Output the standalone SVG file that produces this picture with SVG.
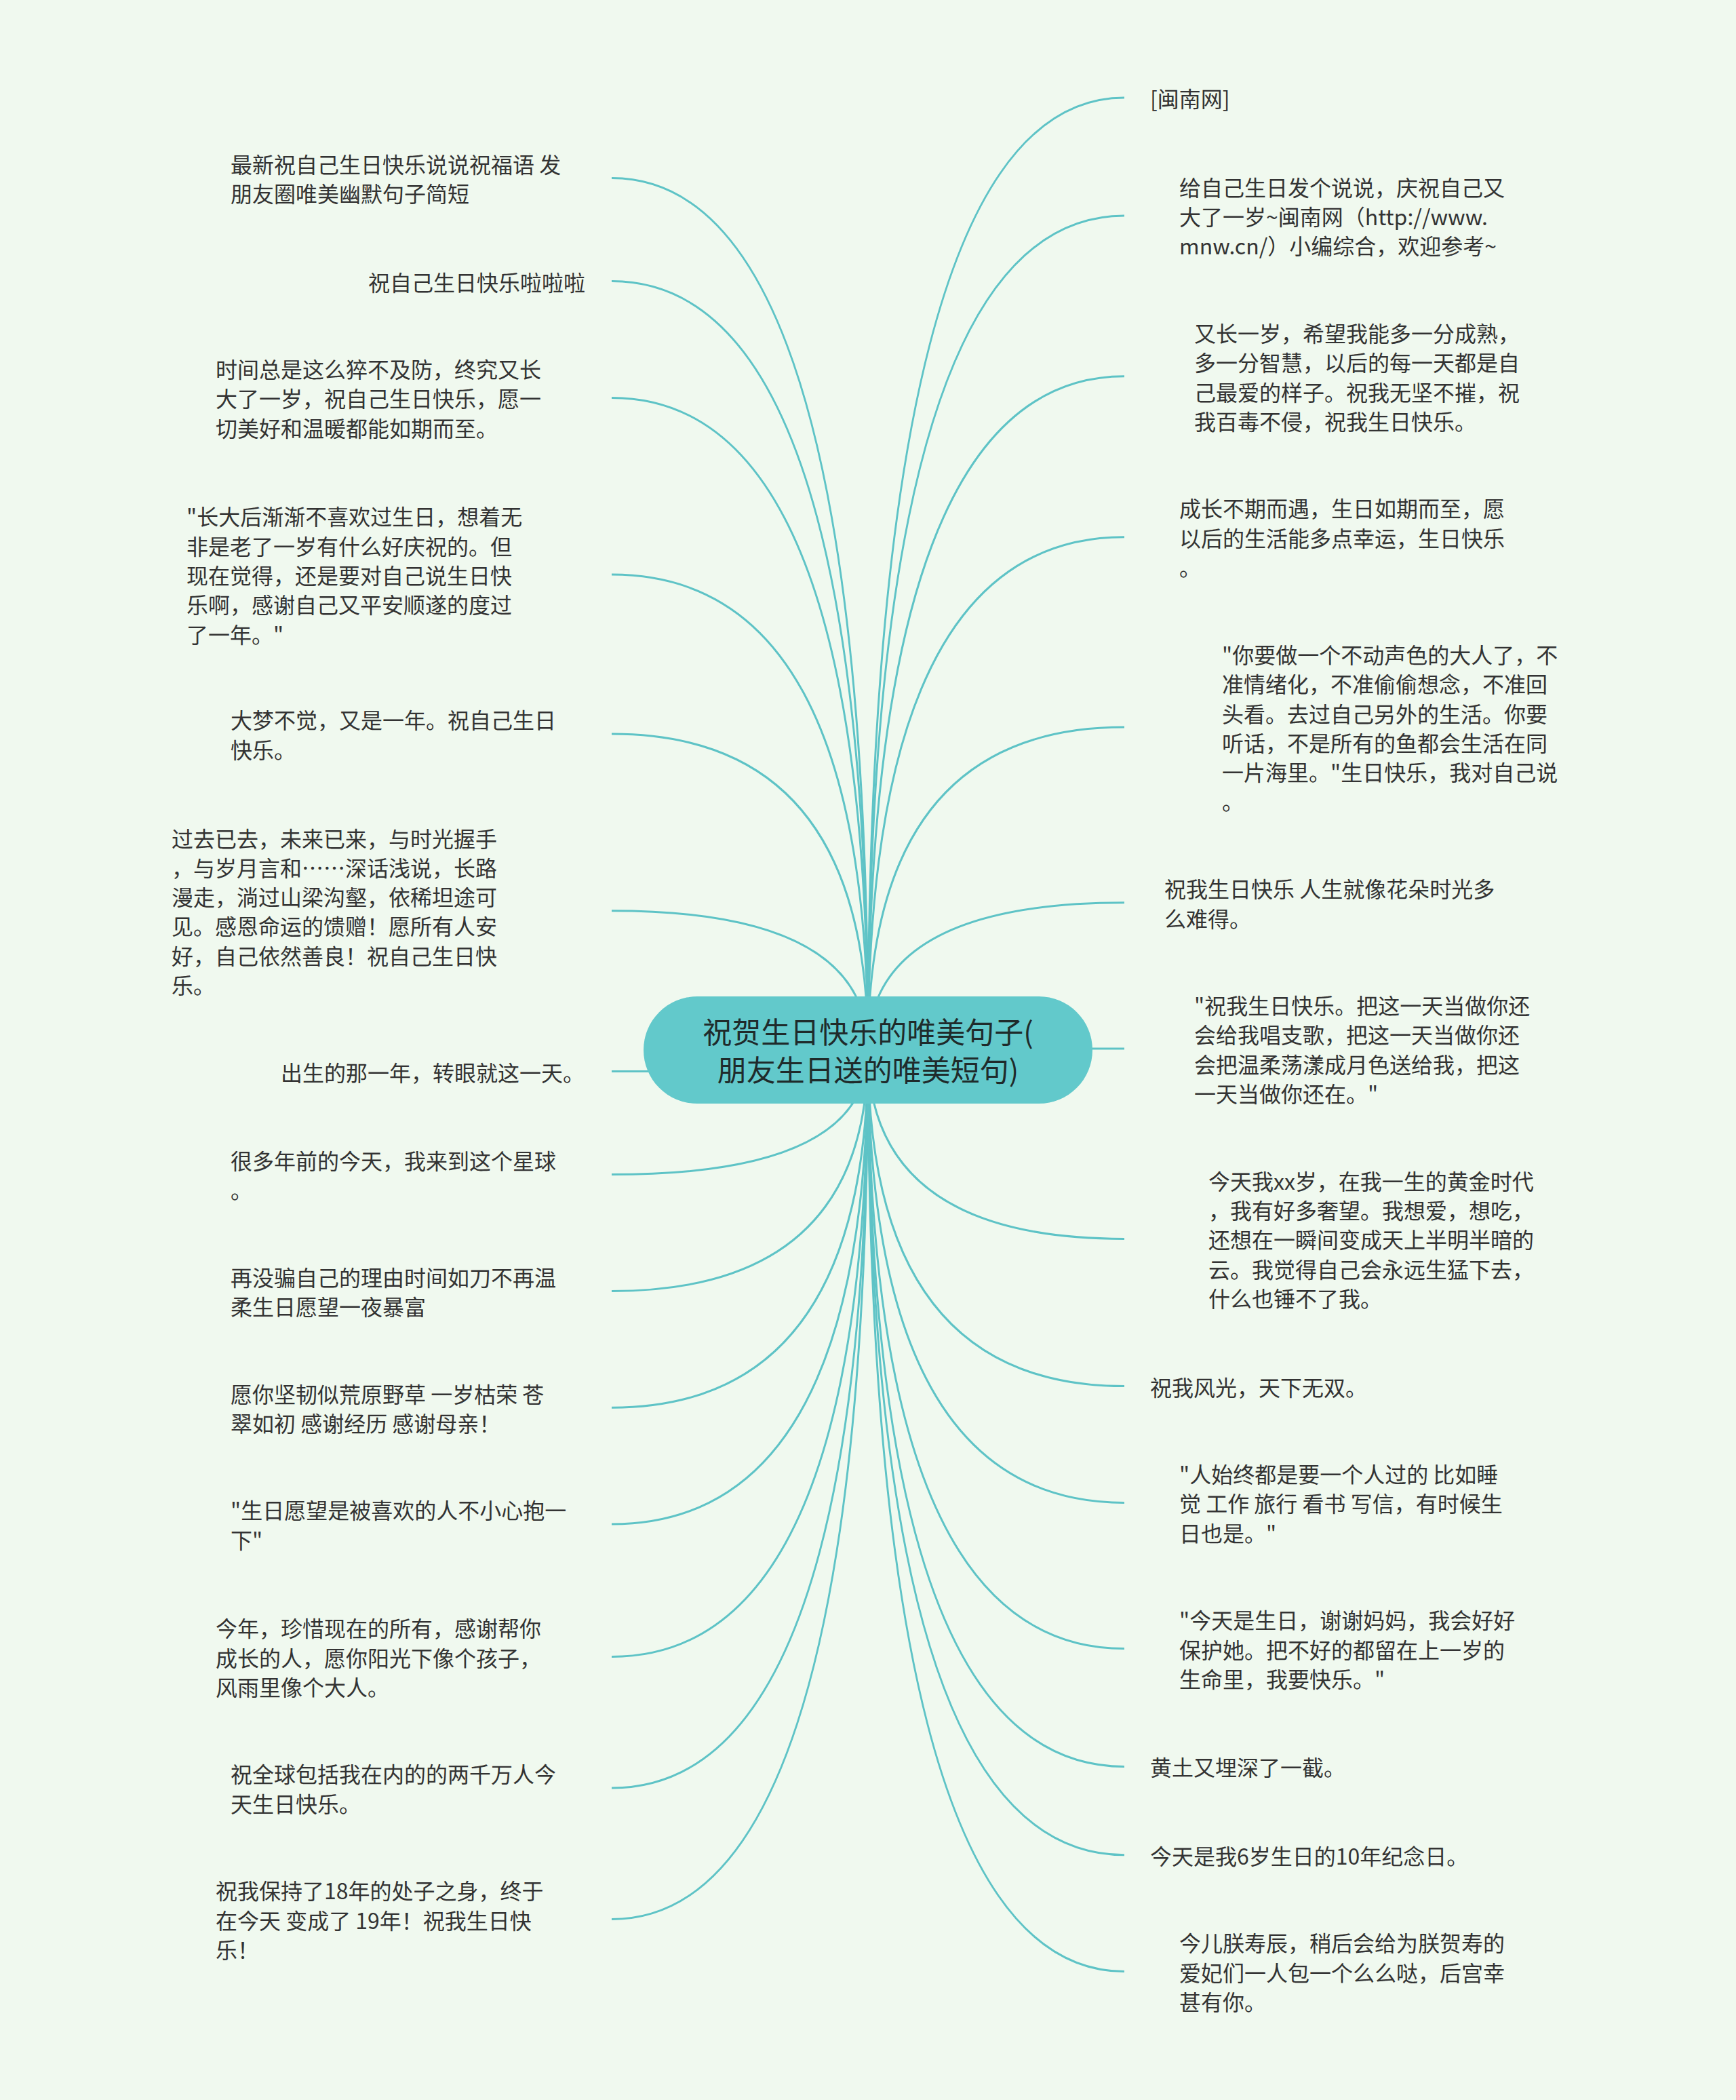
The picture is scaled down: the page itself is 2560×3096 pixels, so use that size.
<svg xmlns="http://www.w3.org/2000/svg" width="2560" height="3096" viewBox="0 0 2560 3096">
<style>
.bg{fill:#f0f9ef}
.edge{fill:none;stroke:#5ec3c6;stroke-width:3}
.root{fill:#62c9cb}
.rt{font-family:"Noto Sans CJK SC","Microsoft YaHei",sans-serif;font-size:43px;fill:#1f2b2b;text-anchor:middle;dominant-baseline:central}
.t{font-family:"Noto Sans CJK SC","Microsoft YaHei",sans-serif;font-size:32px;fill:#333333;dominant-baseline:central}
</style>
<rect class="bg" x="0" y="0" width="2560" height="3096"/>
<g id="connectors">
<path class="edge" d="M1280 1548 Q1280 262.6 902 262.6"/>
<path class="edge" d="M1280 1548 Q1280 414.6 902 414.6"/>
<path class="edge" d="M1280 1548 Q1280 586.4 902 586.4"/>
<path class="edge" d="M1280 1548 Q1280 847.1 902 847.1"/>
<path class="edge" d="M1280 1548 Q1280 1082 902 1082"/>
<path class="edge" d="M1280 1548 Q1280 1342.7 902 1342.7"/>
<path class="edge" d="M1280 1548 Q1280 1579.6 902 1579.6"/>
<path class="edge" d="M1280 1548 Q1280 1731.6 902 1731.6"/>
<path class="edge" d="M1280 1548 Q1280 1903.4 902 1903.4"/>
<path class="edge" d="M1280 1548 Q1280 2075.2 902 2075.2"/>
<path class="edge" d="M1280 1548 Q1280 2247 902 2247"/>
<path class="edge" d="M1280 1548 Q1280 2442.5 902 2442.5"/>
<path class="edge" d="M1280 1548 Q1280 2636 902 2636"/>
<path class="edge" d="M1280 1548 Q1280 2829.5 902 2829.5"/>
<path class="edge" d="M1280 1548 Q1280 144 1658 144"/>
<path class="edge" d="M1280 1548 Q1280 318 1658 318"/>
<path class="edge" d="M1280 1548 Q1280 554.8 1658 554.8"/>
<path class="edge" d="M1280 1548 Q1280 791.7 1658 791.7"/>
<path class="edge" d="M1280 1548 Q1280 1072.1 1658 1072.1"/>
<path class="edge" d="M1280 1548 Q1280 1330.8 1658 1330.8"/>
<path class="edge" d="M1280 1548 Q1280 1546 1658 1546"/>
<path class="edge" d="M1280 1548 Q1280 1826.4 1658 1826.4"/>
<path class="edge" d="M1280 1548 Q1280 2043.6 1658 2043.6"/>
<path class="edge" d="M1280 1548 Q1280 2215.4 1658 2215.4"/>
<path class="edge" d="M1280 1548 Q1280 2430.6 1658 2430.6"/>
<path class="edge" d="M1280 1548 Q1280 2604.4 1658 2604.4"/>
<path class="edge" d="M1280 1548 Q1280 2734.7 1658 2734.7"/>
<path class="edge" d="M1280 1548 Q1280 2906.5 1658 2906.5"/>
</g>
<g id="root">
<rect class="root" x="949" y="1469" width="662" height="158" rx="79" ry="79"/>
<text class="rt" x="1280" y="1519">祝贺生日快乐的唯美句子(</text>
<text class="rt" x="1280" y="1575">朋友生日送的唯美短句)</text>
</g>
<g id="L1"><text class="t" x="340" y="241">最新祝自己生日快乐说说祝福语 发</text><text class="t" x="340" y="284">朋友圈唯美幽默句子简短</text></g>
<g id="L2"><text class="t" x="543" y="414.6">祝自己生日快乐啦啦啦</text></g>
<g id="L3"><text class="t" x="318" y="543">时间总是这么猝不及防，终究又长</text><text class="t" x="318" y="586.4">大了一岁，祝自己生日快乐，愿一</text><text class="t" x="318" y="630">切美好和温暖都能如期而至。</text></g>
<g id="L4"><text class="t" x="275" y="760">"长大后渐渐不喜欢过生日，想着无</text><text class="t" x="275" y="804">非是老了一岁有什么好庆祝的。但</text><text class="t" x="275" y="847">现在觉得，还是要对自己说生日快</text><text class="t" x="275" y="890">乐啊，感谢自己又平安顺遂的度过</text><text class="t" x="275" y="934">了一年。"</text></g>
<g id="L5"><text class="t" x="340" y="1060">大梦不觉，又是一年。祝自己生日</text><text class="t" x="340" y="1104">快乐。</text></g>
<g id="L6"><text class="t" x="253" y="1234.5">过去已去，未来已来，与时光握手</text><text class="t" x="253" y="1278">，与岁月言和……深话浅说，长路</text><text class="t" x="253" y="1321">漫走，淌过山梁沟壑，依稀坦途可</text><text class="t" x="253" y="1364">见。感恩命运的馈赠！愿所有人安</text><text class="t" x="253" y="1408">好，自己依然善良！祝自己生日快</text><text class="t" x="253" y="1451">乐。</text></g>
<g id="L7"><text class="t" x="414" y="1579.6">出生的那一年，转眼就这一天。</text></g>
<g id="L8"><text class="t" x="340" y="1710">很多年前的今天，我来到这个星球</text><text class="t" x="340" y="1753">。</text></g>
<g id="L9"><text class="t" x="340" y="1882">再没骗自己的理由时间如刀不再温</text><text class="t" x="340" y="1925">柔生日愿望一夜暴富</text></g>
<g id="L10"><text class="t" x="340" y="2054">愿你坚韧似荒原野草 一岁枯荣 苍</text><text class="t" x="340" y="2097">翠如初 感谢经历 感谢母亲！</text></g>
<g id="L11"><text class="t" x="340" y="2225">"生日愿望是被喜欢的人不小心抱一</text><text class="t" x="340" y="2269">下"</text></g>
<g id="L12"><text class="t" x="318" y="2399">今年，珍惜现在的所有，感谢帮你</text><text class="t" x="318" y="2442.5">成长的人，愿你阳光下像个孩子，</text><text class="t" x="318" y="2486">风雨里像个大人。</text></g>
<g id="L13"><text class="t" x="340" y="2614">祝全球包括我在内的的两千万人今</text><text class="t" x="340" y="2658">天生日快乐。</text></g>
<g id="L14"><text class="t" x="318" y="2786">祝我保持了18年的处子之身，终于</text><text class="t" x="318" y="2829.5">在今天 变成了 19年！祝我生日快</text><text class="t" x="318" y="2873">乐！</text></g>
<g id="R1"><text class="t" x="1696" y="144">[闽南网]</text></g>
<g id="R2"><text class="t" x="1739" y="274.7">给自己生日发个说说，庆祝自己又</text><text class="t" x="1739" y="318">大了一岁~闽南网（http://www.</text><text class="t" x="1739" y="361.3">mnw.cn/）小编综合，欢迎参考~</text></g>
<g id="R3"><text class="t" x="1761" y="489.9">又长一岁，希望我能多一分成熟，</text><text class="t" x="1761" y="533.2">多一分智慧，以后的每一天都是自</text><text class="t" x="1761" y="576.5">己最爱的样子。祝我无坚不摧，祝</text><text class="t" x="1761" y="619.8">我百毒不侵，祝我生日快乐。</text></g>
<g id="R4"><text class="t" x="1739" y="748.4">成长不期而遇，生日如期而至，愿</text><text class="t" x="1739" y="791.7">以后的生活能多点幸运，生日快乐</text><text class="t" x="1739" y="835">。</text></g>
<g id="R5"><text class="t" x="1802" y="963.9">"你要做一个不动声色的大人了，不</text><text class="t" x="1802" y="1007.2">准情绪化，不准偷偷想念，不准回</text><text class="t" x="1802" y="1050.5">头看。去过自己另外的生活。你要</text><text class="t" x="1802" y="1093.8">听话，不是所有的鱼都会生活在同</text><text class="t" x="1802" y="1137.1">一片海里。"生日快乐，我对自己说</text><text class="t" x="1802" y="1180.4">。</text></g>
<g id="R6"><text class="t" x="1717" y="1309.2">祝我生日快乐 人生就像花朵时光多</text><text class="t" x="1717" y="1352.5">么难得。</text></g>
<g id="R7"><text class="t" x="1761" y="1481">"祝我生日快乐。把这一天当做你还</text><text class="t" x="1761" y="1524.4">会给我唱支歌，把这一天当做你还</text><text class="t" x="1761" y="1567.7">会把温柔荡漾成月色送给我，把这</text><text class="t" x="1761" y="1611">一天当做你还在。"</text></g>
<g id="R8"><text class="t" x="1782" y="1739.8">今天我xx岁，在我一生的黄金时代</text><text class="t" x="1782" y="1783.1">，我有好多奢望。我想爱，想吃，</text><text class="t" x="1782" y="1826.4">还想在一瞬间变成天上半明半暗的</text><text class="t" x="1782" y="1869.7">云。我觉得自己会永远生猛下去，</text><text class="t" x="1782" y="1913">什么也锤不了我。</text></g>
<g id="R9"><text class="t" x="1696" y="2043.6">祝我风光，天下无双。</text></g>
<g id="R10"><text class="t" x="1739" y="2172">"人始终都是要一个人过的 比如睡</text><text class="t" x="1739" y="2215.4">觉 工作 旅行 看书 写信，有时候生</text><text class="t" x="1739" y="2258.7">日也是。"</text></g>
<g id="R11"><text class="t" x="1739" y="2387">"今天是生日，谢谢妈妈，我会好好</text><text class="t" x="1739" y="2430.6">保护她。把不好的都留在上一岁的</text><text class="t" x="1739" y="2474">生命里，我要快乐。"</text></g>
<g id="R12"><text class="t" x="1696" y="2604.4">黄土又埋深了一截。</text></g>
<g id="R13"><text class="t" x="1696" y="2734.7">今天是我6岁生日的10年纪念日。</text></g>
<g id="R14"><text class="t" x="1739" y="2863">今儿朕寿辰，稍后会给为朕贺寿的</text><text class="t" x="1739" y="2906.5">爱妃们一人包一个么么哒，后宫幸</text><text class="t" x="1739" y="2950">甚有你。</text></g>
</svg>
